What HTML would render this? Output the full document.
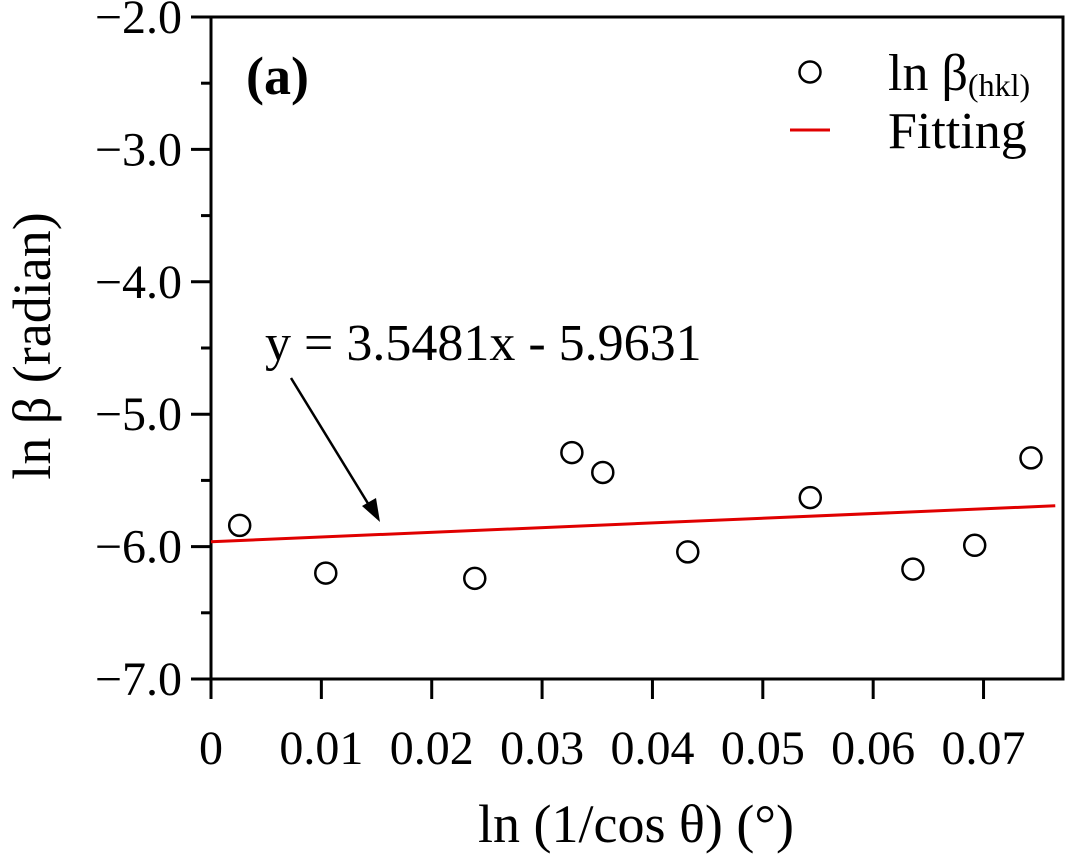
<!DOCTYPE html>
<html><head><meta charset="utf-8"><style>
body{margin:0;background:#fff}
svg text{font-family:"Liberation Serif",serif;fill:#000}
</style></head><body>
<svg id="chart" width="1071" height="855"></svg>
<script>
const xTicks=[0,0.01,0.02,0.03,0.04,0.05,0.06,0.07];
const xTickLabels=["0","0.01","0.02","0.03","0.04","0.05","0.06","0.07"];
const yTicks=[-2,-3,-4,-5,-6,-7];
const yTickLabels=["\u22122.0","\u22123.0","\u22124.0","\u22125.0","\u22126.0","\u22127.0"];
const xData=[0.0026,0.0104,0.0239,0.0327,0.0355,0.0432,0.0543,0.0636,0.0692,0.0743];
const yData=[-5.84,-6.20,-6.24,-5.29,-5.44,-6.04,-5.63,-6.17,-5.99,-5.33];
const fitSlope=3.5481, fitIntercept=-5.9631;
const fitRange=[0,0.0765];

const L=211,R=1063,T=17,B=679;
const xMin=0,xMax=0.0772,yMin=-7,yMax=-2;
const sx=v=>L+(v-xMin)/(xMax-xMin)*(R-L);
const sy=v=>B-(v-yMin)/(yMax-yMin)*(B-T);
const svg=document.getElementById('chart');
const NS='http://www.w3.org/2000/svg';
function mk(tag,attrs,name,text){const e=document.createElementNS(NS,tag);for(const k in attrs)e.setAttribute(k,attrs[k]);


if(text!==undefined)e.textContent=text;svg.appendChild(e);return e;}

mk('rect',{x:L,y:T,width:R-L,height:B-T,fill:'none',stroke:'#000','stroke-width':3},'plot-frame');
xTicks.forEach((v,i)=>{const x=sx(v);
mk('line',{x1:x,x2:x,y1:B,y2:B+20,stroke:'#000','stroke-width':3},'x-tick');
mk('text',{x:x,y:764,'font-size':48,'text-anchor':'middle'},'x-tick-label',xTickLabels[i]);});
yTicks.forEach((v,i)=>{const y=sy(v);
mk('line',{x1:L-20,x2:L,y1:y,y2:y,stroke:'#000','stroke-width':3},'y-tick');
mk('text',{x:182,y:y+16,'font-size':48,'text-anchor':'end'},'y-tick-label',yTickLabels[i]);
if(v>yMin){const ym=sy(v-0.5);mk('line',{x1:L-10,x2:L,y1:ym,y2:ym,stroke:'#000','stroke-width':3},'y-minor-tick');}});
mk('text',{x:636,y:842,'font-size':54,'text-anchor':'middle'},'x-axis-title','ln (1/cos θ) (°)');
mk('text',{x:0,y:0,'font-size':54,'text-anchor':'middle',transform:'translate(50,346) rotate(-90)'},'y-axis-title','ln β (radian)');

mk('line',{x1:sx(fitRange[0]),y1:sy(fitSlope*fitRange[0]+fitIntercept),x2:sx(fitRange[1]),y2:sy(fitSlope*fitRange[1]+fitIntercept),stroke:'#e00000','stroke-width':3},'fit-line');
xData.forEach((v,i)=>{mk('circle',{cx:sx(v),cy:sy(yData[i]),r:10.5,fill:'#fff',stroke:'#000','stroke-width':2.5},'data-point');});

mk('text',{x:246,y:94,'font-size':54,'font-weight':'bold'},'panel-label','(a)');
mk('circle',{cx:810,cy:72,r:10.5,fill:'#fff',stroke:'#000','stroke-width':2.5},'legend-marker');
const lt=mk('text',{x:888,y:90,'font-size':52},'legend-label-data','ln β');
const sub=document.createElementNS(NS,'tspan');sub.setAttribute('font-size',32);sub.setAttribute('dy',6);sub.textContent='(hkl)';


lt.appendChild(sub);
mk('line',{x1:790,x2:830,y1:130,y2:130,stroke:'#e00000','stroke-width':3},'legend-line');
mk('text',{x:888,y:148,'font-size':52},'legend-label-fit','Fitting');

mk('text',{x:265,y:360,'font-size':52},'equation-annotation','y = 3.5481x - 5.9631');
mk('line',{x1:291,y1:378,x2:372,y2:510,stroke:'#000','stroke-width':2.5},'annotation-arrow');
mk('polygon',{points:'380,522 362,506 376,498',fill:'#000'},'annotation-arrowhead');
</script>
</body></html>
